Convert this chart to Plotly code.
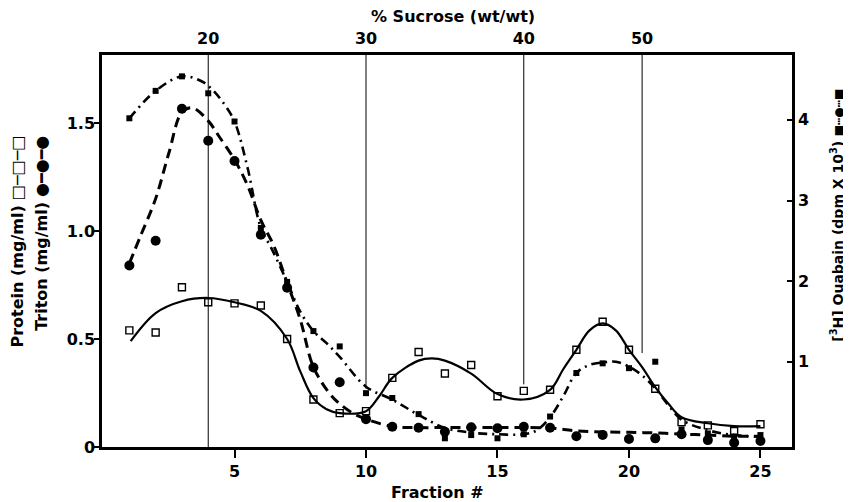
import plotly.graph_objects as go

# ---------------- data ----------------
fractions = list(range(1, 26))
protein = [0.54, 0.53, 0.74, 0.67, 0.665, 0.655, 0.50, 0.22, 0.157, 0.166, 0.32, 0.44, 0.34,
           0.38, 0.235, 0.26, 0.265, 0.45, 0.58, 0.45, 0.27, 0.115, 0.10, 0.074, 0.105]
triton = [0.84, 0.955, 1.566, 1.418, 1.324, 0.983, 0.737, 0.368, 0.30, 0.129, 0.094, 0.089, 0.071,
          0.091, 0.087, 0.094, 0.089, 0.05, 0.056, 0.037, 0.04, 0.059, 0.032, 0.02, 0.028]
ouabain = [4.02, 4.36, 4.54, 4.33, 3.98, 2.66, 1.99, 1.38, 1.19, 0.61, 0.55, 0.35, 0.05,
           0.09, 0.05, 0.10, 0.32, 0.86, 0.98, 0.92, 1.0, 0.16, 0.11, 0.07, 0.09]

# hand-drawn fitted curves (knots)
protein_curve_x = [1.05, 2, 3, 4, 5, 6, 7, 7.5, 8, 8.5, 9, 10, 10.5, 11, 12, 12.5, 13, 14, 15, 16,
                   17, 17.5, 18, 18.5, 19, 19.5, 20, 20.5, 21, 21.5, 22, 23, 24, 25]
protein_curve_y = [0.49, 0.62, 0.675, 0.69, 0.67, 0.63, 0.50, 0.35, 0.226, 0.175, 0.157, 0.166, 0.235,
                   0.32, 0.40, 0.41, 0.40, 0.34, 0.245, 0.22, 0.265, 0.36, 0.45, 0.54, 0.572, 0.54,
                   0.45, 0.37, 0.277, 0.20, 0.138, 0.11, 0.097, 0.097]
triton_curve_x = [1.0, 1.4, 2.0, 2.5, 3.0, 3.4, 4.0, 4.4, 5.0, 5.5, 6.0, 6.5, 7.0, 7.5, 8.0, 8.6, 9.0,
                  9.5, 10, 11, 12, 13, 14, 15, 16, 17, 18, 19, 20, 21, 22, 23, 24, 25]
triton_curve_y = [0.85, 0.97, 1.15, 1.36, 1.55, 1.57, 1.51, 1.44, 1.33, 1.21, 1.05, 0.93, 0.76, 0.59,
                  0.37, 0.25, 0.20, 0.156, 0.129, 0.095, 0.09, 0.09, 0.09, 0.09, 0.09, 0.088, 0.075,
                  0.07, 0.068, 0.065, 0.06, 0.055, 0.05, 0.05]
ouabain_curve_x = [1, 2, 3, 3.8, 4.2, 4.6, 5, 5.5, 6, 6.4, 7, 7.5, 8, 8.5, 9, 10, 11, 12, 13, 14, 15,
                   16, 16.5, 17, 17.5, 18, 18.5, 19, 19.5, 20, 20.5, 21, 21.5, 22, 23, 24, 25]
ouabain_curve_y = [4.02, 4.36, 4.54, 4.47, 4.36, 4.2, 3.98, 3.4, 2.66, 2.41, 1.99, 1.62, 1.38, 1.23,
                   1.06, 0.69, 0.53, 0.34, 0.18, 0.12, 0.10, 0.10, 0.15, 0.31, 0.57, 0.86, 0.96, 0.99,
                   1.0, 0.94, 0.83, 0.67, 0.46, 0.28, 0.15, 0.09, 0.07]

# sucrose gradient marks (top axis)
sucrose_frac = [4, 10, 16, 20.5]
sucrose_pct = ["20", "30", "40", "50"]
guide_bottom = [0, 0.27, 0.29, 0.435]

x_ticks = [5, 10, 15, 20, 25]
left_ticks = [0, 0.5, 1.0, 1.5]
left_ticktext = ["0", "0.5", "1.0", "1.5"]
right_ticks = [1, 2, 3, 4]

FONT = "DejaVu Sans"
FS = 16

fig = go.Figure()

# guide lines for sucrose concentration
for f, yb in zip(sucrose_frac, guide_bottom):
    fig.add_shape(type="line", xref="x", yref="y", x0=f, x1=f, y0=yb, y1=1.815,
                  line=dict(color="black", width=1))

# curves
fig.add_trace(go.Scatter(x=protein_curve_x, y=protein_curve_y, mode="lines",
                         line=dict(color="black", width=2.2, shape="spline", smoothing=1.0),
                         hoverinfo="skip", showlegend=False))
fig.add_trace(go.Scatter(x=triton_curve_x, y=triton_curve_y, mode="lines",
                         line=dict(color="black", width=3, dash="10px,6px", shape="spline", smoothing=1.0),
                         hoverinfo="skip", showlegend=False))
fig.add_trace(go.Scatter(x=ouabain_curve_x, y=ouabain_curve_y, mode="lines", yaxis="y2",
                         line=dict(color="black", width=2.6, dash="9px,5px,2px,5px", shape="spline",
                                   smoothing=1.0),
                         hoverinfo="skip", showlegend=False))

# points
fig.add_trace(go.Scatter(x=fractions, y=protein, mode="markers", name="Protein",
                         marker=dict(symbol="square-open", size=7, color="black",
                                     line=dict(width=1.4, color="black")),
                         showlegend=False))
fig.add_trace(go.Scatter(x=fractions, y=triton, mode="markers", name="Triton",
                         marker=dict(symbol="circle", size=10, color="black"),
                         showlegend=False))
fig.add_trace(go.Scatter(x=fractions, y=ouabain, mode="markers", name="Ouabain", yaxis="y2",
                         marker=dict(symbol="square", size=6, color="black"),
                         showlegend=False))
# invisible trace to activate top axis
fig.add_trace(go.Scatter(x=sucrose_frac, y=[None] * len(sucrose_frac), xaxis="x2",
                         mode="markers", showlegend=False, hoverinfo="skip"))

tickfont = dict(family=FONT, size=FS, color="black")
# page body adds an 8px offset, so the figure is sized 8px smaller than the window
fig.update_layout(
    width=843, height=494,
    margin=dict(l=94, r=59, t=47, b=55),
    paper_bgcolor="white", plot_bgcolor="white",
    font=dict(family=FONT, size=FS, color="black"),
    xaxis=dict(range=[-0.04, 26.2], tickvals=x_ticks,
               ticktext=[f"<b>{v}</b>" for v in x_ticks],
               ticks="outside", ticklen=8, tickwidth=1.5, tickcolor="black",
               showline=True, linewidth=2.5, linecolor="black", mirror=True,
               showgrid=False, zeroline=False, tickfont=tickfont, automargin=False),
    xaxis2=dict(range=[-0.04, 26.2], overlaying="x", side="top", tickvals=sucrose_frac,
                ticktext=[f"<b>{t}</b>" for t in sucrose_pct], ticks="", showline=False,
                showgrid=False, zeroline=False, tickfont=tickfont, ticklabelstandoff=7,
                automargin=False),
    yaxis=dict(range=[0, 1.815], tickvals=left_ticks,
               ticktext=[f"<b>{t}</b>" for t in left_ticktext],
               ticks="outside", ticklen=5, tickwidth=1.5, tickcolor="black",
               showline=True, linewidth=2.5, linecolor="black",
               showgrid=False, zeroline=False, tickfont=tickfont, ticklabelstandoff=-4,
               automargin=False),
    yaxis2=dict(range=[-0.058, 4.805], overlaying="y", side="right", tickvals=right_ticks,
                ticktext=[f"<b>{t}</b>" for t in right_ticks],
                ticks="inside", ticklen=5, tickwidth=1.5, tickcolor="black",
                showline=True, linewidth=2.5, linecolor="black",
                showgrid=False, zeroline=False, tickfont=tickfont, automargin=False),
)

ann = [
    dict(text="<b>% Sucrose (wt/wt)</b>", x=0.509, y=1.097, xref="paper", yref="paper",
         showarrow=False, xanchor="center", yanchor="middle"),
    dict(text="<b>Fraction #</b>", x=0.486, y=-0.115, xref="paper", yref="paper",
         showarrow=False, xanchor="center", yanchor="middle"),
    dict(text="<b>Protein (mg/ml)</b> □─□─□", x=-0.123, y=0.80, xref="paper", yref="paper",
         showarrow=False, textangle=-90, xanchor="center", yanchor="top"),
    dict(text="<b>Triton (mg/ml)</b> ●━●━●", x=-0.087, y=0.80, xref="paper", yref="paper",
         showarrow=False, textangle=-90, xanchor="center", yanchor="top"),
    dict(text="<b>[<sup>3</sup>H] Ouabain (dpm X 10<sup>3</sup>)</b> <span style='font-size:12px'>■┅●┅■</span>",
         x=1.065, y=0.92, xref="paper", yref="paper", showarrow=False, textangle=-90,
         xanchor="center", yanchor="top", font=dict(size=14)),
]
fig.update_layout(annotations=ann)

fig.write_html("out.html")
